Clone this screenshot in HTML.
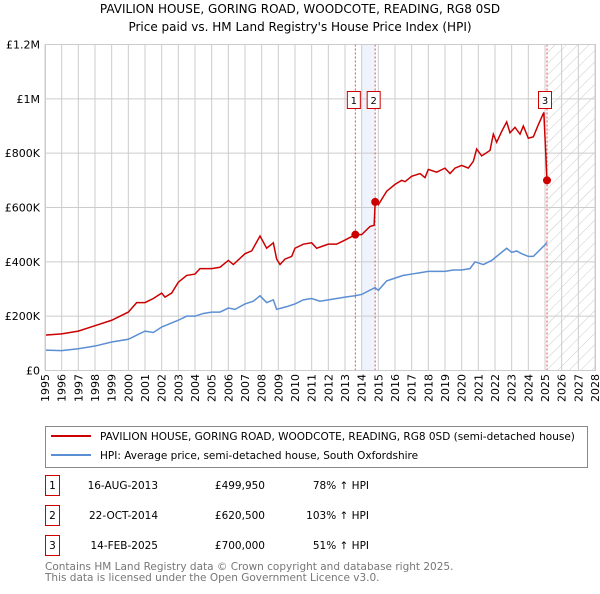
<!DOCTYPE html>
<html><head><meta charset="utf-8"><style>
body{margin:0;background:#fff;font-family:"DejaVu Sans","Liberation Sans",sans-serif;}
svg text{font-family:"DejaVu Sans","Liberation Sans",sans-serif;}
</style></head><body>
<svg width="600" height="590">
<defs><pattern id="hatch" width="8" height="8" patternUnits="userSpaceOnUse" patternTransform="rotate(45)"><line x1="0" y1="0" x2="0" y2="8" stroke="#ccc" stroke-width="1"/></pattern></defs>
<text x="300" y="13" text-anchor="middle" font-size="12">PAVILION HOUSE, GORING ROAD, WOODCOTE, READING, RG8 0SD</text>
<text x="300" y="31" text-anchor="middle" font-size="12">Price paid vs. HM Land Registry's House Price Index (HPI)</text>
<g id="plot"></g>
<g>
<rect x="45.5" y="426.5" width="542" height="41" fill="#fff" stroke="#888"/>
<line x1="51" y1="436" x2="91" y2="436" stroke="#cc0000" stroke-width="2"/>
<text x="100" y="440" font-size="10.5">PAVILION HOUSE, GORING ROAD, WOODCOTE, READING, RG8 0SD (semi-detached house)</text>
<line x1="51" y1="455" x2="91" y2="455" stroke="#5b8fd4" stroke-width="2"/>
<text x="100" y="459" font-size="10.5">HPI: Average price, semi-detached house, South Oxfordshire</text>
</g>
<g font-size="10.5">
<rect x="45.5" y="475.5" width="14" height="20" fill="#fff" stroke="#cc0000"/><text x="52.5" y="489" text-anchor="middle">1</text>
<text x="158" y="489" text-anchor="end">16-AUG-2013</text><text x="265" y="489" text-anchor="end">£499,950</text><text x="369" y="489" text-anchor="end">78% ↑ HPI</text>
<rect x="45.5" y="505.5" width="14" height="20" fill="#fff" stroke="#cc0000"/><text x="52.5" y="519" text-anchor="middle">2</text>
<text x="158" y="519" text-anchor="end">22-OCT-2014</text><text x="265" y="519" text-anchor="end">£620,500</text><text x="369" y="519" text-anchor="end">103% ↑ HPI</text>
<rect x="45.5" y="535.5" width="14" height="20" fill="#fff" stroke="#cc0000"/><text x="52.5" y="549" text-anchor="middle">3</text>
<text x="158" y="549" text-anchor="end">14-FEB-2025</text><text x="265" y="549" text-anchor="end">£700,000</text><text x="369" y="549" text-anchor="end">51% ↑ HPI</text>
</g>
<text x="45" y="570" font-size="10.5" fill="#777">Contains HM Land Registry data © Crown copyright and database right 2025.</text>
<text x="45" y="581" font-size="10.5" fill="#777">This data is licensed under the Open Government Licence v3.0.</text>
</svg>
<script>
const yTicks=[0,200000,400000,600000,800000,1000000,1200000];
const yTickLabels=["£0","£200K","£400K","£600K","£800K","£1M","£1.2M"];
const xYears=[1995,1996,1997,1998,1999,2000,2001,2002,2003,2004,2005,2006,2007,2008,2009,2010,2011,2012,2013,2014,2015,2016,2017,2018,2019,2020,2021,2022,2023,2024,2025,2026,2027,2028];
const redT=[1995,1996,1997,1998,1999,2000,2000.5,2001,2001.5,2002,2002.2,2002.6,2003,2003.5,2004,2004.3,2005,2005.5,2006,2006.3,2007,2007.4,2007.9,2008.3,2008.7,2008.9,2009.1,2009.4,2009.8,2010,2010.5,2011,2011.3,2012,2012.5,2013,2013.62,2014,2014.5,2014.75,2014.81,2015,2015.5,2016,2016.4,2016.6,2017,2017.5,2017.8,2018,2018.5,2019,2019.3,2019.6,2020,2020.4,2020.7,2020.9,2021.2,2021.7,2021.9,2022.1,2022.4,2022.7,2022.9,2023.2,2023.5,2023.7,2024,2024.3,2024.6,2024.93,2025.12];
const redV=[130,135,145,165,185,215,250,250,265,285,270,285,325,350,355,375,375,380,405,390,430,440,495,450,470,410,390,410,420,450,465,470,450,465,465,480,500,500,530,535,620,610,660,685,700,695,715,725,710,740,730,745,725,745,755,745,770,815,790,810,870,840,880,915,875,895,870,900,855,860,905,950,700];
const blueT=[1995,1996,1997,1998,1999,2000,2000.5,2001,2001.5,2002,2003,2003.5,2004,2004.5,2005,2005.5,2006,2006.4,2007,2007.5,2007.9,2008.3,2008.7,2008.9,2009.5,2010,2010.5,2011,2011.5,2012,2013,2013.6,2014,2014.8,2015,2015.5,2016,2016.5,2017,2017.5,2018,2019,2019.5,2020,2020.5,2020.8,2021.3,2021.8,2022,2022.7,2023,2023.3,2023.6,2024,2024.3,2025.12];
const blueV=[75,73,80,90,105,115,130,145,140,160,185,200,200,210,215,215,230,225,245,255,275,250,260,225,235,245,260,265,255,260,270,275,280,305,295,330,340,350,355,360,365,365,370,370,375,400,390,405,415,450,435,440,430,420,420,470];
const sales=[{n:"1",t:2013.62,v:499950},{n:"2",t:2014.81,v:620500},{n:"3",t:2025.12,v:700000}];
const X0=45,X1=595,Y0=370.5,Y1=44.5;
const xs=t=>X0+(t-1995)/(2028-1995)*(X1-X0);
const ys=v=>Y0-v/1200000*(Y0-Y1);
const NS="http://www.w3.org/2000/svg";
const g=document.getElementById('plot');
function mk(tag,a,p){const e=document.createElementNS(NS,tag);for(const k in a)e.setAttribute(k,a[k]);(p||g).appendChild(e);return e;}
let e;
e=mk('rect',{x:xs(2014),y:Y1,width:xs(2014.81)-xs(2014),height:Y0-Y1,fill:'#eef3fc'});


e=mk('rect',{x:xs(2025.12),y:Y1,width:X1-xs(2025.12),height:Y0-Y1,fill:'url(#hatch)'});


xYears.forEach(yr=>{
 e=mk('line',{x1:xs(yr),x2:xs(yr),y1:Y1,y2:Y0,stroke:'#ccc','stroke-width':1});
 
 
 const tx=xs(yr)+4,ty=374;
 e=mk('text',{x:tx,y:ty,'text-anchor':'end','font-size':'11',transform:'rotate(-90 '+tx+' '+ty+')'});e.textContent=yr;
 
 
});
yTicks.forEach((v,i)=>{
 e=mk('line',{x1:X0,x2:X1,y1:ys(v),y2:ys(v),stroke:'#ccc','stroke-width':1});
 
 
 e=mk('text',{x:40,y:ys(v)+4,'text-anchor':'end','font-size':'11'});e.textContent=yTickLabels[i];
 
 
});
sales.forEach(s=>{
 e=mk('line',{x1:xs(s.t),x2:xs(s.t),y1:Y1,y2:Y0,stroke:'#e05050','stroke-width':1,'stroke-dasharray':'2,2'});
 
 
});
e=mk('polyline',{points:blueT.map((t,i)=>xs(t)+','+ys(blueV[i]*1000)).join(' '),fill:'none',stroke:'#5b8fd4','stroke-width':1.5});


e=mk('polyline',{points:redT.map((t,i)=>xs(t)+','+ys(redV[i]*1000)).join(' '),fill:'none',stroke:'#cc0000','stroke-width':1.5});


sales.forEach(s=>{
 e=mk('circle',{cx:xs(s.t),cy:ys(s.v),r:4,fill:'#cc0000'});
 
 
 const bx=xs(s.t);
 const off=s.n==="3"?-3:-2.5;
 e=mk('rect',{x:bx+off-5.5,y:91.5,width:13,height:17,fill:'#fff',stroke:'#cc0000'});
 
 
 e=mk('text',{x:bx+off+1,y:104,'text-anchor':'middle','font-size':'10'});e.textContent=s.n;
 
 
});
e=mk('rect',{x:X0+0.5,y:Y1,width:X1-X0,height:Y0-Y1,fill:'none',stroke:'#ccc'});


</script>
</body></html>
